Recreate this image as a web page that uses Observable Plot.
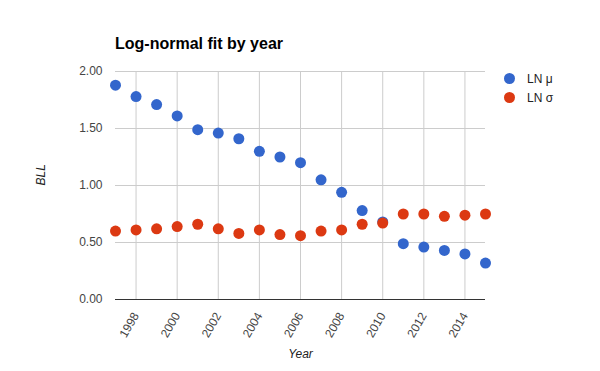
<!DOCTYPE html>
<html>
<head>
<meta charset="utf-8">
<script src="https://cdn.jsdelivr.net/npm/d3@7"></script>
<script src="https://cdn.jsdelivr.net/npm/@observablehq/plot@0.6"></script>
<style>
  html, body { margin: 0; padding: 0; background: #fff; }
  #wrap { position: relative; width: 600px; height: 371px; font-family: "Liberation Sans", Arial, sans-serif; }
  #title { position: absolute; left: 115px; top: 35px; font-size: 16px; font-weight: bold; color: #000; white-space: nowrap; }
  #legend { position: absolute; left: 504px; top: 69px; font-size: 12px; color: #222; }
  .item { display: flex; align-items: center; height: 19px; }
  .sw { width: 11px; height: 11px; border-radius: 50%; margin-right: 12px; }
</style>
</head>
<body>
<div id="wrap"></div>
<script>
const years = [1997,1998,1999,2000,2001,2002,2003,2004,2005,2006,2007,2008,2009,2010,2011,2012,2013,2014,2015];
const lnMu = [1.88,1.78,1.71,1.61,1.49,1.46,1.41,1.30,1.25,1.20,1.05,0.94,0.78,0.68,0.49,0.46,0.43,0.40,0.32];
const lnSigma = [0.60,0.61,0.62,0.64,0.66,0.62,0.58,0.61,0.57,0.56,0.60,0.61,0.66,0.67,0.75,0.75,0.73,0.74,0.75];
const seriesNames = ["LN μ", "LN σ"];
const seriesColors = ["#3366cc", "#dc3912"];
const xTicks = [1998,2000,2002,2004,2006,2008,2010,2012,2014];
const yTicks = [0, 0.5, 1, 1.5, 2];
const titleText = "Log-normal fit by year";
const xLabel = "Year";
const yLabel = "BLL";

const data = [];
years.forEach((yr, i) => data.push({year: yr, value: lnMu[i], series: seriesNames[0]}));
years.forEach((yr, i) => data.push({year: yr, value: lnSigma[i], series: seriesNames[1]}));

const chart = Plot.plot({
  width: 600,
  height: 371,
  marginTop: 71,
  marginBottom: 72,
  marginLeft: 115,
  marginRight: 115,
  style: {fontFamily: "'Liberation Sans', Arial, sans-serif", fontSize: "12px", background: "#fff"},
  x: {domain: [1997, 2015]},
  y: {domain: [0, 2]},
  color: {domain: seriesNames, range: seriesColors},
  marks: [
    Plot.gridX(xTicks, {stroke: "#ccc", strokeOpacity: 1}),
    Plot.gridY(yTicks, {stroke: "#ccc", strokeOpacity: 1}),
    Plot.axisX(xTicks, {tickSize: 0, tickRotate: -60, tickPadding: 14, tickFormat: d => String(d), fill: "#444", label: null, fontSize: 12}),
    Plot.axisY(yTicks, {tickSize: 0, tickPadding: 13, tickFormat: d3.format(".2f"), fill: "#444", label: null, fontSize: 12}),
    Plot.ruleY([0], {stroke: "#333", strokeWidth: 1}),
    Plot.dot(data, {x: "year", y: "value", fill: "series", r: 5.5, stroke: null}),
    Plot.text([xLabel], {frameAnchor: "bottom", dy: 58, fontStyle: "italic", fill: "#222", fontSize: 12}),
    Plot.text([yLabel], {frameAnchor: "left", dx: -74, rotate: -90, fontStyle: "italic", fill: "#222", fontSize: 12})
  ]
});

const wrap = document.getElementById("wrap");
wrap.appendChild(chart);
const t = document.createElement("div");
t.id = "title";
t.textContent = titleText;
wrap.appendChild(t);
const lg = document.createElement("div");
lg.id = "legend";
seriesNames.forEach((n, i) => {
  const it = document.createElement("div");
  it.className = "item";
  const sw = document.createElement("div");
  sw.className = "sw";
  sw.style.background = seriesColors[i];
  it.appendChild(sw);
  const tx = document.createElement("span");
  tx.textContent = n;
  it.appendChild(tx);
  lg.appendChild(it);
});
wrap.appendChild(lg);
</script>
</body>
</html>
